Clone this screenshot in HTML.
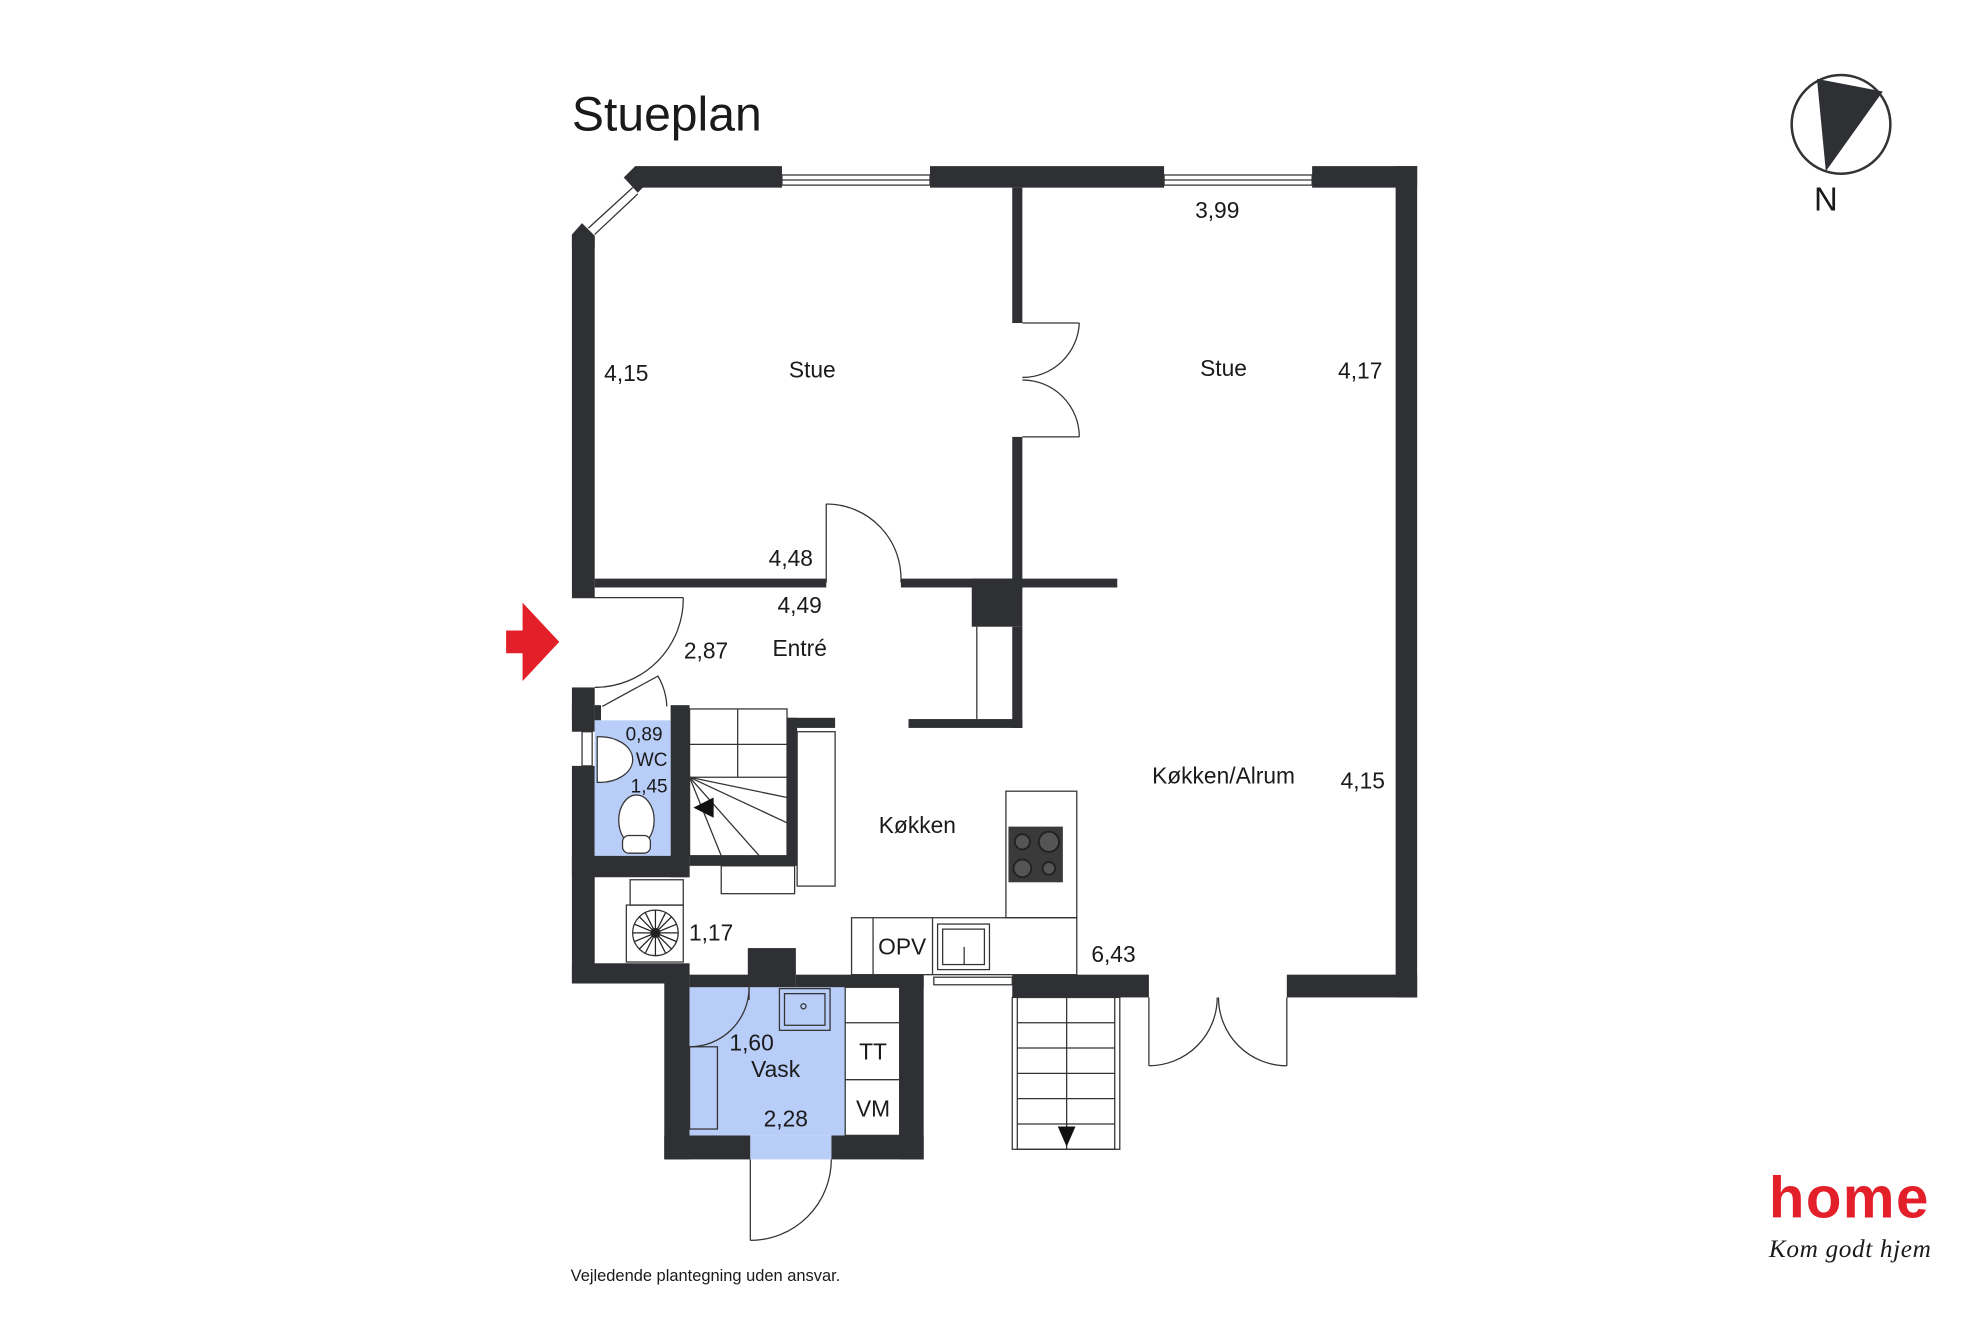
<!DOCTYPE html>
<html><head><meta charset="utf-8"><style>
html,body{margin:0;padding:0;background:#fff;}
svg{display:block;}
text{font-family:"Liberation Sans",sans-serif;fill:#1a1a1a;}
</style></head><body>
<svg width="1984" height="1323" viewBox="0 0 1568 1045" xmlns="http://www.w3.org/2000/svg">
<g fill="#2f3033">
<polygon points="508,131 618,131 618,148 502,148 493,140"/>
<rect x="735" y="131" width="185" height="17"/>
<rect x="1037" y="131" width="83" height="17"/>
<polygon points="493,140 502,131 508,131 508,148 504,152"/>
<polygon points="452,185 460,176 470,186 470,195 452,195"/>
<rect x="452" y="186" width="18" height="286"/>
<rect x="452" y="543" width="18" height="35"/>
<rect x="452" y="605" width="18" height="171"/>
<rect x="1103" y="131" width="17" height="657"/>
<rect x="1017" y="770" width="103" height="18"/>
<rect x="800" y="770" width="108" height="18"/>
<rect x="452" y="761" width="93" height="16"/>
<rect x="525" y="770" width="20" height="146"/>
<rect x="525" y="897" width="68" height="19"/>
<rect x="657" y="897" width="73" height="19"/>
<rect x="711" y="770" width="19" height="146"/>
<rect x="545" y="770" width="48" height="10"/>
<rect x="591" y="749" width="38" height="31"/>
<rect x="629" y="770" width="101" height="10"/>
<rect x="800" y="148" width="8" height="107"/>
<rect x="800" y="345" width="8" height="120"/>
<rect x="470" y="457" width="183" height="7"/>
<rect x="712" y="457" width="171" height="7"/>
<rect x="768" y="457" width="40" height="38"/>
<rect x="800" y="495" width="8" height="80"/>
<rect x="718" y="568" width="90" height="7"/>
<rect x="452" y="557" width="18" height="12"/>
<rect x="470" y="557" width="5" height="12"/>
<rect x="530" y="557" width="15" height="136"/>
<rect x="452" y="676" width="93" height="17"/>
<rect x="622" y="567" width="8" height="113"/>
<rect x="622" y="567" width="38" height="8"/>
<rect x="545" y="676" width="85" height="8"/>
</g>
<rect x="470" y="569" width="60" height="107" fill="#b8cdf8"/>
<rect x="545" y="780" width="123" height="117" fill="#b8cdf8"/>
<rect x="593" y="897" width="64" height="19" fill="#b8cdf8"/>
<g fill="none" stroke="#333" stroke-width="1">
<rect x="618" y="138" width="117" height="8"/><line x1="618" y1="142" x2="735" y2="142"/>
<rect x="920" y="138" width="117" height="8"/><line x1="920" y1="142" x2="1037" y2="142"/>
<line x1="465" y1="180" x2="500" y2="148"/><line x1="470" y1="185" x2="504" y2="153"/>
<rect x="460" y="578" width="8" height="27"/>
<rect x="738" y="772" width="62" height="6"/>
<line x1="808" y1="255" x2="853" y2="255"/><path d="M853,255 A45,45 0 0 1 808,298"/>
<line x1="808" y1="345" x2="853" y2="345"/><path d="M853,345 A45,45 0 0 0 808,300"/>
<line x1="653" y1="398" x2="653" y2="460"/><path d="M653,398 A59,59 0 0 1 712,460"/>
<line x1="452" y1="472" x2="540" y2="472"/><path d="M540,472 A70,70 0 0 1 470,543"/>
<path d="M476,558 L520,534 A52,52 0 0 1 527,558"/>
<line x1="772" y1="495" x2="772" y2="568"/>
<rect x="545" y="560" width="77" height="116"/>
<line x1="545" y1="588" x2="622" y2="588"/><line x1="545" y1="614" x2="622" y2="614"/>
<line x1="583" y1="560" x2="583" y2="614"/>
<line x1="545" y1="614" x2="622" y2="650"/><line x1="545" y1="614" x2="600" y2="676"/>
<line x1="545" y1="614" x2="570" y2="676"/><line x1="545" y1="614" x2="622" y2="630"/>
<rect x="630" y="578" width="30" height="122"/>
<rect x="570" y="684" width="58" height="22"/>
<rect x="498" y="695" width="42" height="20"/>
<rect x="495" y="715" width="45" height="45"/>
<circle cx="518" cy="737" r="18"/>
<rect x="795" y="625" width="56" height="100"/>
<rect x="673" y="725" width="178" height="45"/>
<line x1="690" y1="725" x2="690" y2="770"/><line x1="737" y1="725" x2="737" y2="770"/>
<rect x="741" y="730" width="41" height="36"/><rect x="745" y="734" width="33" height="28"/>
<line x1="762" y1="748" x2="762" y2="762"/>
<rect x="616" y="781" width="40" height="33"/><rect x="620" y="785" width="32" height="25"/>
<rect x="668" y="780" width="43" height="117"/>
<line x1="668" y1="808" x2="711" y2="808"/><line x1="668" y1="853" x2="711" y2="853"/>
<rect x="545" y="827" width="22" height="65"/>
<path d="M545,827 A47,47 0 0 0 592,780"/><line x1="592" y1="780" x2="592" y2="790"/>
<line x1="593" y1="916" x2="593" y2="980"/><path d="M593,980 A64,64 0 0 0 657,916"/>
<rect x="800" y="788" width="85" height="120"/>
<rect x="804" y="788" width="77" height="120"/>
<line x1="843" y1="788" x2="843" y2="908"/>
<line x1="804" y1="808" x2="881" y2="808"/><line x1="804" y1="828" x2="881" y2="828"/>
<line x1="804" y1="848" x2="881" y2="848"/><line x1="804" y1="868" x2="881" y2="868"/>
<line x1="804" y1="888" x2="881" y2="888"/>
<line x1="908" y1="788" x2="908" y2="842"/><path d="M908,842 A54,54 0 0 0 962,788"/>
<line x1="1017" y1="788" x2="1017" y2="842"/><path d="M1017,842 A54,54 0 0 1 963,788"/>
<circle cx="1455" cy="98" r="39" stroke-width="2"/>
</g>
<g fill="#fff" stroke="#333" stroke-width="1">
<path d="M472,582 A26,18 0 0 1 500,600 A26,18 0 0 1 472,618 Z"/>
<ellipse cx="503" cy="648" rx="14" ry="20"/>
<rect x="492" y="660" width="22" height="14" rx="5"/>
</g>
<rect x="797" y="653" width="43" height="44" fill="#3a3a3a"/>
<g fill="#555" stroke="#222" stroke-width="1.5">
<circle cx="808" cy="665" r="6"/><circle cx="829" cy="665" r="8"/>
<circle cx="808" cy="686" r="7"/><circle cx="829" cy="686" r="5"/>
</g>
<g stroke="#222" stroke-width="1">
<line x1="500" y1="737" x2="536" y2="737"/><line x1="518" y1="719" x2="518" y2="755"/>
<line x1="505" y1="724" x2="531" y2="750"/><line x1="531" y1="724" x2="505" y2="750"/>
<line x1="510" y1="721" x2="526" y2="753"/><line x1="526" y1="721" x2="510" y2="753"/>
<line x1="501" y1="730" x2="535" y2="744"/><line x1="535" y1="730" x2="501" y2="744"/>
</g>
<circle cx="518" cy="737" r="4" fill="#222"/>
<circle cx="635" cy="795" r="2" fill="none" stroke="#333"/>
<polygon points="548,638 564,630 564,646" fill="#111"/>
<polygon points="836,890 850,890 843,906" fill="#111"/>
<polygon points="1436,62 1488,72 1443,135" fill="#2f3033"/>
<polygon points="400,498 413,498 413,476 442,507 413,538 413,516 400,516" fill="#e3202a"/>
<text x="452" y="103" font-size="38">Stueplan</text>
<g font-size="18" text-anchor="middle">
<text x="642" y="298">Stue</text>
<text x="967" y="297">Stue</text>
<text x="495" y="301">4,15</text>
<text x="1075" y="299">4,17</text>
<text x="962" y="172">3,99</text>
<text x="625" y="447">4,48</text>
<text x="632" y="484">4,49</text>
<text x="558" y="520">2,87</text>
<text x="632" y="518">Entré</text>
<text x="509" y="585" font-size="15">0,89</text>
<text x="515" y="605" font-size="15">WC</text>
<text x="513" y="626" font-size="15">1,45</text>
<text x="725" y="658">Køkken</text>
<text x="967" y="619">Køkken/Alrum</text>
<text x="1077" y="623">4,15</text>
<text x="562" y="743">1,17</text>
<text x="713" y="754">OPV</text>
<text x="880" y="760">6,43</text>
<text x="594" y="830">1,60</text>
<text x="613" y="851">Vask</text>
<text x="690" y="837">TT</text>
<text x="690" y="882">VM</text>
<text x="621" y="890">2,28</text>
</g>
<text x="1443" y="166" font-size="26" text-anchor="middle">N</text>
<text x="451" y="1012" font-size="13">Vejledende plantegning uden ansvar.</text>
<text x="1398" y="962" font-size="46" font-weight="bold" style="fill:#e3202a" textLength="126">home</text>
<text x="1398" y="993" font-size="20" font-style="italic" style="font-family:'Liberation Serif',serif" textLength="128">Kom godt hjem</text>
</svg>
</body></html>
